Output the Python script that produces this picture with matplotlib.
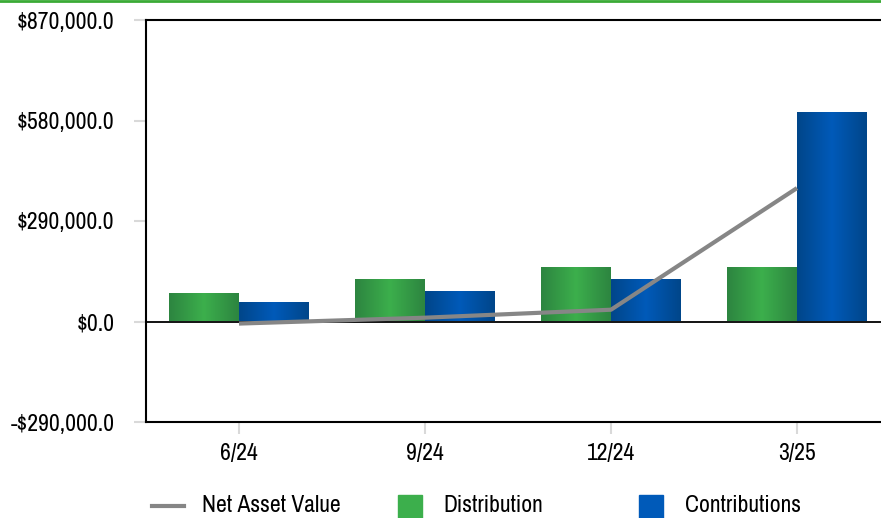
import matplotlib
matplotlib.use('Agg')

import numpy as np
import matplotlib.pyplot as plt
from matplotlib.colors import LinearSegmentedColormap
from matplotlib.lines import Line2D
from matplotlib.patches import Rectangle

plt.rcParams['font.family'] = ['Archivo Narrow', 'Liberation Sans', 'DejaVu Sans']

# data
quarters = ['6/24', '9/24', '12/24', '3/25']
nav = [-6000, 11000, 34000, 385000]
distribution = [80000, 121000, 155000, 155000]
contributions = [52000, 86000, 121000, 603000]
yticks = [-290000, 0, 290000, 580000, 870000]
legend_labels = ['Net Asset Value', 'Distribution', 'Contributions']

nav_color = '#868686'
green_cmap = LinearSegmentedColormap.from_list('g', ['#2d8540', '#3caf4c', '#2d8540'])
blue_cmap = LinearSegmentedColormap.from_list('b', ['#00468a', '#005ab9', '#00468a'])

W, H = 881, 518
fig = plt.figure(figsize=(W / 100, H / 100), dpi=100)
# axes runs past the right edge of the figure, as in the reference
ax = fig.add_axes([146 / W, (H - 422) / H, 744 / W, 402 / H])

x = np.arange(len(quarters))
bw = 0.376
grad = np.linspace(0, 1, 64).reshape(1, -1)

def gradient_bars(xs, heights, cmap):
    for xi, h in zip(xs, heights):
        ax.imshow(grad, cmap=cmap, aspect='auto', extent=(xi, xi + bw, 0, h),
                  interpolation='bilinear', zorder=2)

gradient_bars(x - bw, distribution, green_cmap)
gradient_bars(x, contributions, blue_cmap)

ax.plot(x, nav, color=nav_color, lw=3, zorder=4, solid_capstyle='butt')
ax.axhline(0, color='black', lw=1.3, zorder=3)

ax.set_xlim(-0.5, 3.5)
ax.set_ylim(-290000, 870000)
ax.set_yticks(yticks)
ax.set_yticklabels([('-$' if v < 0 else '$') + f'{abs(v):,.1f}' for v in yticks])
ax.set_xticks(x)
ax.set_xticklabels(quarters)
ax.tick_params(axis='both', labelsize=17, color='#d9d9d9', length=8.6, width=1.5,
               labelcolor='black')
ax.tick_params(axis='y', pad=14)
ax.tick_params(axis='x', pad=6.5)
for s in ['left', 'top', 'bottom', 'right']:
    ax.spines[s].set_linewidth(1.5)
    ax.spines[s].set_color('black')

# legend drawn in pixel positions of the reference
def fx(px):
    return px / W

def fy(py):
    return 1 - py / H

fig.add_artist(Line2D([fx(152), fx(184)], [fy(506), fy(506)], color=nav_color, lw=3,
                      transform=fig.transFigure))
fig.add_artist(Rectangle((fx(398), fy(518)), 24 / W, 23 / H, color='#3caf4c',
                         transform=fig.transFigure))
fig.add_artist(Rectangle((fx(639), fy(518)), 24 / W, 23 / H, color='#005ab9',
                         transform=fig.transFigure))
for px, label in zip([202, 443, 685], legend_labels):
    fig.text(fx(px), fy(506), label, fontsize=17, va='center', ha='left')

fig.add_artist(Line2D([0, 1], [1 - 1 / H, 1 - 1 / H], transform=fig.transFigure,
                      color='#3aaa35', lw=2))

fig.savefig('out.png', dpi=100)
